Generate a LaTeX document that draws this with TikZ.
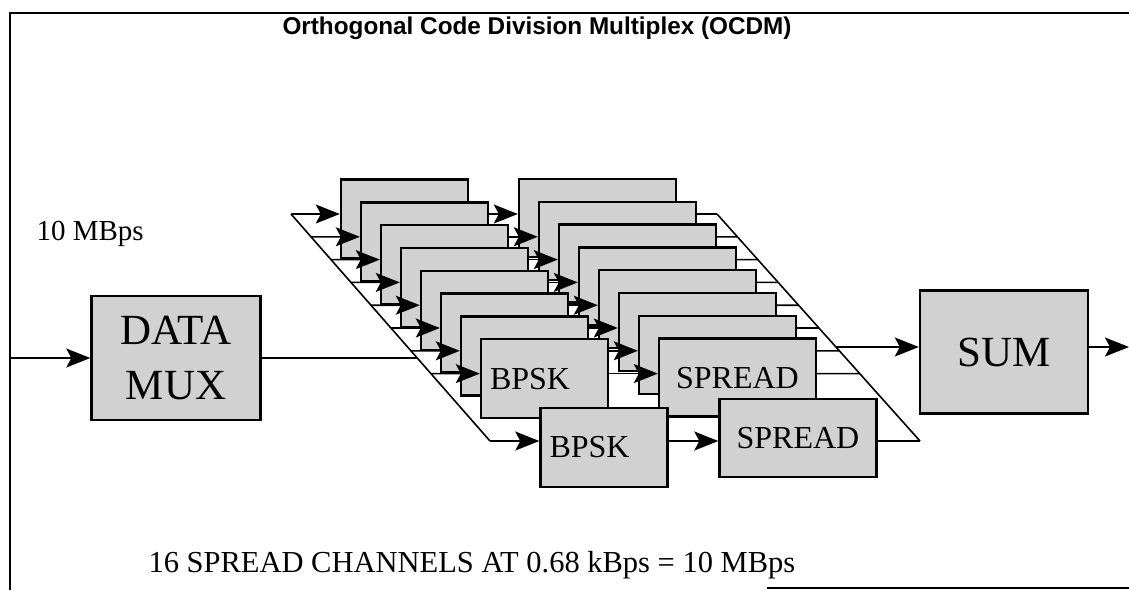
\documentclass[tikz,border=0pt]{standalone}
\usepackage{fontspec}
\setmainfont{Liberation Serif}
\newfontfamily\titlefont{Liberation Sans}
\usetikzlibrary{arrows.meta, calc}

\begin{document}
\begin{tikzpicture}[x=1pt, y=-1pt,
        blk/.style={draw, line width=2.4pt, fill=black!18, inner sep=0pt},
        bpsk/.style={blk, minimum width=127, minimum height=79, text width=109, inner xsep=9, align=left, font=\fontsize{32}{36}\selectfont},
        sprd/.style={blk, minimum width=157, minimum height=78, font=\fontsize{32}{36}\selectfont},
        wire/.style={line width=1.6pt},
        arr/.style={line width=1.6pt, -{Stealth[length=24pt, width=19pt, inset=5pt]}}]
    \useasboundingbox (0,0) rectangle (1129,590);
    % frame
    \draw[line width=1.3pt] (10,590) -- (10,13) -- (1129,13);
    \draw[line width=1.3pt] (767,588) -- (1129,588);
    \node[font=\titlefont\bfseries\fontsize{24.3}{28}\selectfont] (title) at (537,28) {Orthogonal Code Division Multiplex (OCDM)};
    \node[anchor=base west, font=\fontsize{29}{34}\selectfont] (rate) at (33,240) {10 MBps};
    \node[anchor=base west, font=\fontsize{30.5}{36}\selectfont] (total) at (145,572) {16 SPREAD CHANNELS AT 0.68 kBps = 10 MBps};

    % mux and sum
    \node[blk, minimum width=169, minimum height=124, align=center, font=\fontsize{43}{55}\selectfont] (mux) at (176,358) {DATA\\MUX};
    \node[blk, minimum width=168, minimum height=123, font=\fontsize{43}{50}\selectfont] (sum) at (1004,352) {SUM};
    \coordinate (in) at (10,358);
    \draw[arr] (in) -- (mux.west);

    % split and join lines
    \coordinate (lt) at (291,214);
    \coordinate (lb) at (490,441);
    \coordinate (rt) at (717,214);
    \coordinate (rb) at (920,441);
    \draw[wire] (lt) -- (lb);
    \draw[wire] (rt) -- (rb);
    \draw[wire] (mux.east) -- ($(lt)!{(358-214)/227}!(lb)$);

    % channels, back to front
    \foreach \i in {0,...,7} {
        \pgfmathsetmacro\y{214+22.8*\i}
        \pgfmathsetmacro\t{(\y-214)/227}
        \coordinate (c\i) at (0,\y);
        \node[bpsk] (b\i) at (404.5+20*\i, \y+5) {\ifnum\i=7 BPSK\fi};
        \draw[arr] ($(lt)!\t!(lb)$) -- (b\i.west |- c\i);
        \node[sprd] (s\i) at (597.5+20*\i, \y+4) {\ifnum\i=7 SPREAD\fi};
        \draw[arr] (b\i.east |- c\i) -- (s\i.west |- c\i);
        \draw[wire] (s\i.east |- c\i) -- ($(rt)!\t!(rb)$);
    }
    \coordinate (cf) at (0,441);
    \node[bpsk] (bf) at (604,447.5) {BPSK};
    \draw[arr] (lb) -- (bf.west |- cf);
    \node[sprd] (sf) at (798,438) {SPREAD};
    \draw[arr] (bf.east |- cf) -- (sf.west |- cf);
    \draw[wire] (sf.east |- cf) -- (rb);

    % into and out of sum
    \coordinate (sj) at ($(rt)!{(347-214)/227}!(rb)$);
    \coordinate (out) at (1129,347);
    \draw[arr] (sj) -- (sj -| sum.west);
    \draw[arr] (sum.east |- sj) -- (out);
\end{tikzpicture}
\end{document}
